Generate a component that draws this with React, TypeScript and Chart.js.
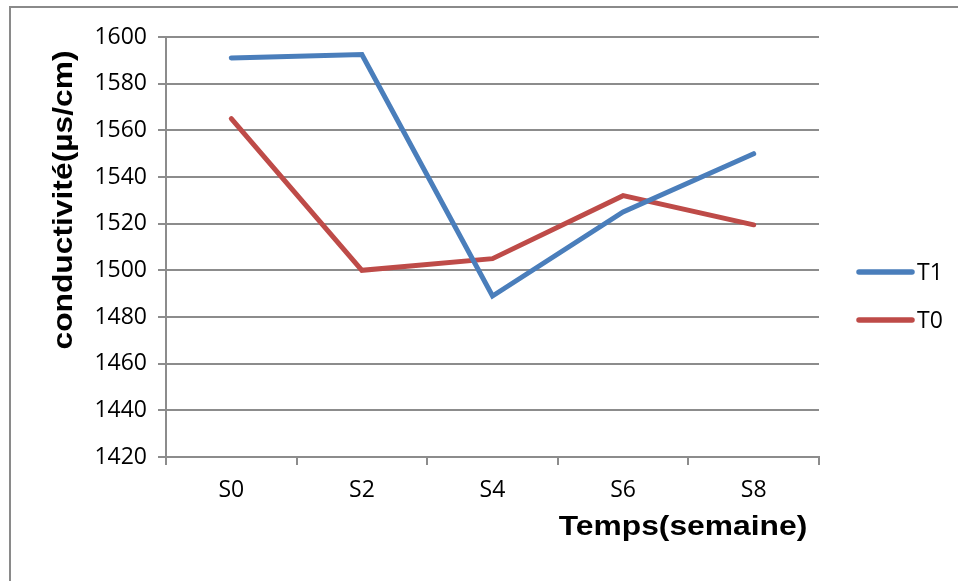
import React, { useEffect, useRef } from "react";
import { Chart, registerables } from "chart.js";

Chart.register(...registerables);

const categories = ["S0", "S2", "S4", "S6", "S8"];
const seriesT1 = [1591, 1592.5, 1489, 1525, 1550];
const seriesT0 = [1565, 1500, 1505, 1532, 1519.5];
const seriesNames = ["T1", "T0"];
const seriesColors = ["#4A7EBB", "#BE4B48"];
const yMin = 1420;
const yMax = 1600;
const yStep = 20;
const yTitle = "conductivité(µs/cm)";
const xTitle = "Temps(semaine)";

const GRID = "#8c8c8c";
const TICK_FONT = { family: "'Open Sans', sans-serif", size: 23 };

const decorPlugin = {
  id: "decor",
  afterDraw(chart: any) {
    const { ctx, chartArea } = chart;
    ctx.save();
    ctx.fillStyle = "#000";
    ctx.font = "bold 28px 'Liberation Sans', Arial, sans-serif";
    ctx.textAlign = "center";
    ctx.textBaseline = "alphabetic";
    ctx.save();
    ctx.translate(chartArea.left - 94, chartArea.top + 163);
    ctx.rotate(-Math.PI / 2);
    ctx.scale(1.135, 1);
    ctx.fillText(yTitle, 0, 0);
    ctx.restore();
    ctx.save();
    ctx.translate(chartArea.right - 136, chartArea.bottom + 78);
    ctx.scale(1.135, 1);
    ctx.fillText(xTitle, 0, 0);
    ctx.restore();
    chart.data.datasets.forEach((ds: any, i: number) => {
      const y = chartArea.top + 235 + i * 48;
      const x0 = chartArea.right + 40;
      ctx.strokeStyle = ds.borderColor;
      ctx.lineWidth = 5.5;
      ctx.lineCap = "round";
      ctx.beginPath();
      ctx.moveTo(x0, y);
      ctx.lineTo(x0 + 53, y);
      ctx.stroke();
      ctx.fillStyle = "#000";
      ctx.font = "23px 'Open Sans', sans-serif";
      ctx.textAlign = "left";
      ctx.textBaseline = "middle";
      ctx.fillText(ds.label, x0 + 58, y + 1);
    });
    ctx.restore();
  },
};

export default function App() {
  const ref = useRef<HTMLCanvasElement | null>(null);
  useEffect(() => {
    if (!ref.current) return;
    const mk = (i: number, data: number[]) => ({
      label: seriesNames[i],
      data,
      borderColor: seriesColors[i],
      backgroundColor: seriesColors[i],
      borderWidth: 5,
      pointRadius: 0,
      tension: 0,
      borderCapStyle: "round" as const,
      borderJoinStyle: "miter" as const,
    });
    const chart = new Chart(ref.current, {
      type: "line",
      data: {
        labels: categories,
        datasets: [mk(0, seriesT1), mk(1, seriesT0)],
      },
      options: {
        responsive: false,
        maintainAspectRatio: false,
        animation: false,
        layout: { padding: { left: 0, top: 37, right: 139, bottom: 0 } },
        plugins: { legend: { display: false }, tooltip: { enabled: false } },
        scales: {
          x: {
            type: "category",
            offset: true,
            afterFit: (s: any) => {
              s.height = 124;
            },
            grid: {
              display: true,
              offset: true,
              drawOnChartArea: false,
              drawTicks: true,
              tickLength: 8,
              color: GRID,
              lineWidth: 2,
            },
            border: { display: true, color: GRID, width: 2 },
            ticks: { color: "#000", font: TICK_FONT, padding: 12, maxRotation: 0 },
          },
          y: {
            min: yMin,
            max: yMax,
            afterFit: (s: any) => {
              s.width = 166;
            },
            ticks: {
              stepSize: yStep,
              color: "#000",
              font: TICK_FONT,
              padding: 11,
              callback: (v: any) => String(v),
            },
            grid: {
              display: true,
              drawOnChartArea: true,
              drawTicks: true,
              tickLength: 8,
              color: GRID,
              lineWidth: 2,
            },
            border: { display: true, color: GRID, width: 2 },
          },
        },
      },
      plugins: [decorPlugin],
    });
    return () => chart.destroy();
  }, []);
  return (
    <div style={{ position: "fixed", left: 0, top: 0, width: 958, height: 581, background: "#fff", overflow: "hidden" }}>
      <div
        style={{
          position: "absolute",
          left: 9,
          top: 6,
          width: 1000,
          height: 700,
          borderLeft: "2px solid #8a8a8a",
          borderTop: "2px solid #8a8a8a",
        }}
      />
      <canvas ref={ref} width={958} height={581} style={{ position: "absolute", left: 0, top: 0 }} />
    </div>
  );
}
